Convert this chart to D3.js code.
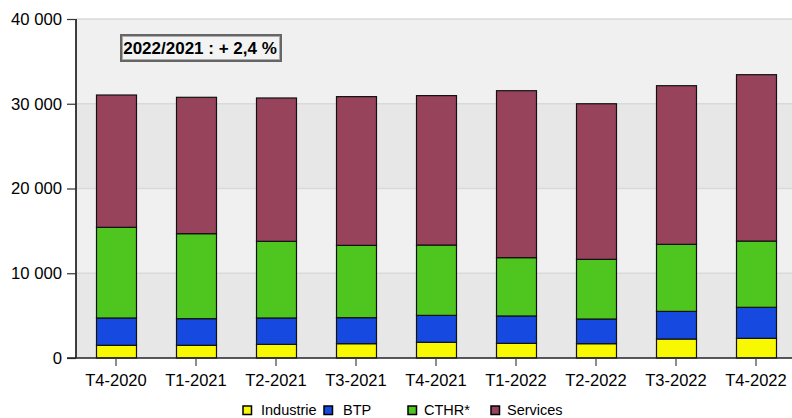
<!DOCTYPE html>
<html>
<head>
<meta charset="utf-8">
<script src="https://cdn.jsdelivr.net/npm/d3@7"></script>
<style>
  html, body { margin: 0; padding: 0; background: #ffffff; }
  svg { display: block; font-family: "Liberation Sans", Arial, sans-serif; }
</style>
</head>
<body>
<svg id="chart" width="792" height="418"></svg>
<script>
// Quarterly values by sector
const categories = ["T4-2020", "T1-2021", "T2-2021", "T3-2021", "T4-2021", "T1-2022", "T2-2022", "T3-2022", "T4-2022"];
const industrie = [1500, 1500, 1610, 1690, 1850, 1730, 1690, 2240, 2320];
const btp       = [3220, 3140, 3110, 3070, 3180, 3230, 2910, 3260, 3660];
const cthr      = [10700, 10030, 9050, 8530, 8300, 6880, 7040, 7910, 7820];
const services  = [15610, 16090, 16910, 17550, 17630, 19700, 18360, 18720, 19630];
const yTicks = [0, 10000, 20000, 30000, 40000];
const seriesNames = ["Industrie", "BTP", "CTHR*", "Services"];
const seriesColors = ["#f8f800", "#1549e0", "#4fc620", "#98435c"];
const note = "2022/2021 : + 2,4 %";

const svg = d3.select("#chart");
const W = 792, H = 418;
const x0 = 76, x1 = 796;
const yTop = 19, yBot = 358;

const x = d3.scaleBand().domain(categories).range([x0, x1]).paddingInner(0.5).paddingOuter(0.25);
const y = d3.scaleLinear().domain([0, 40000]).range([yBot, yTop]);

// Alternating background bands
const bands = d3.range(0, 40000, 10000);
svg.append("g").selectAll("rect").data(bands).join("rect")
  .attr("x", x0).attr("width", W - x0)
  .attr("y", d => y(d + 10000)).attr("height", d => y(d) - y(d + 10000))
  .attr("fill", (d, i) => i % 2 === 0 ? "#e7e7e7" : "#f0f0f0");

// Grid lines
svg.append("g").selectAll("line").data(yTicks.slice(1)).join("line")
  .attr("x1", x0).attr("x2", W)
  .attr("y1", d => y(d)).attr("y2", d => y(d))
  .attr("stroke", "#d9d9d9").attr("stroke-width", 1.5);

// Stacked bars
const rows = categories.map((c, i) => ({ cat: c, s0: industrie[i], s1: btp[i], s2: cthr[i], s3: services[i] }));
const stack = d3.stack().keys(["s0", "s1", "s2", "s3"])(rows);
svg.append("g").selectAll("g").data(stack).join("g")
  .attr("fill", (d, i) => seriesColors[i])
  .selectAll("rect").data(d => d).join("rect")
  .attr("x", d => Math.round(x(d.data.cat)) + 0.5)
  .attr("width", Math.round(x.bandwidth()))
  .attr("y", d => y(d[1]))
  .attr("height", d => y(d[0]) - y(d[1]))
  .attr("stroke", "#111").attr("stroke-width", 1.2);

// Y axis
const yAxis = d3.axisLeft(y).tickValues(yTicks).tickSize(9).tickPadding(5)
  .tickFormat(d => d3.format(",")(d).replace(/,/g, " "));
const gy = svg.append("g").attr("transform", `translate(${x0},0)`).call(yAxis);
gy.select(".domain").attr("stroke", "#000").attr("stroke-width", 1.5).attr("d", `M0,${yTop}V${yBot}`);
gy.selectAll(".tick line").attr("stroke", "#333").attr("stroke-width", 1.2);
gy.selectAll(".tick text").attr("font-size", 16.7).attr("fill", "#000")
  .attr("font-family", "'Liberation Sans', Arial, sans-serif");

// X axis
const xAxis = d3.axisBottom(x).tickSize(8).tickPadding(8);
const gx = svg.append("g").attr("transform", `translate(0,${yBot})`).call(xAxis);
gx.select(".domain").attr("stroke", "#222").attr("stroke-width", 1.5).attr("d", `M${x0 - 9},0H${W}`);
gx.selectAll(".tick line").attr("stroke", "#444").attr("stroke-width", 1.2);
gx.selectAll(".tick text").attr("font-size", 16.5).attr("fill", "#000")
  .attr("font-family", "'Liberation Sans', Arial, sans-serif");

// Annotation box
const note_g = svg.append("g");
note_g.append("rect").attr("x", 121).attr("y", 35).attr("width", 160).attr("height", 26)
  .attr("fill", "#f3f3f3").attr("stroke", "#666").attr("stroke-width", 2);
note_g.append("rect").attr("x", 122.5).attr("y", 36.5).attr("width", 157).attr("height", 23)
  .attr("fill", "none").attr("stroke", "#aaa").attr("stroke-width", 1);
note_g.append("text").attr("x", 200).attr("y", 53.5).attr("text-anchor", "middle")
  .attr("font-size", 17).attr("font-weight", "bold").attr("fill", "#000").text(note);

// Legend
const legendBox = [243, 324, 408, 491];
const legendText = [261, 343, 424, 507];
const lg = svg.append("g").selectAll("g").data(seriesNames).join("g");
lg.append("rect").attr("x", (d, i) => legendBox[i]).attr("y", 406).attr("width", 8.5).attr("height", 8.5)
  .attr("fill", (d, i) => seriesColors[i]).attr("stroke", "#000").attr("stroke-width", 1.5);
lg.append("text").attr("x", (d, i) => legendText[i]).attr("y", 415).attr("font-size", 14.5).attr("fill", "#000").text(d => d);
</script>
</body>
</html>
